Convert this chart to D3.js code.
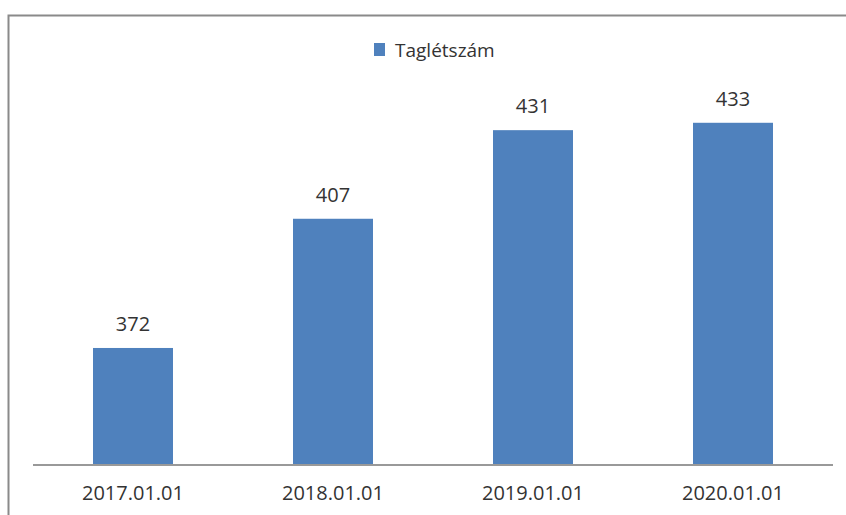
<!DOCTYPE html>
<html><head><meta charset="utf-8">
<script src="https://cdn.jsdelivr.net/npm/d3@7"></script>
<style>body{margin:0;background:#fff}svg{display:block}text{font-family:"Open Sans",sans-serif;fill:#333}</style>
</head><body><svg id="c" width="846" height="515"></svg>
<script>
const categories = ["2017.01.01","2018.01.01","2019.01.01","2020.01.01"];
const values = [372, 407, 431, 433];
const seriesName = "Taglétszám";
const yDomain = [340.3, 460.3];

const svg = d3.select("#c");
// frame
svg.append("path").attr("d","M8.5,515 L8.5,15.5 L846,15.5").attr("fill","none").attr("stroke","#8a8a8a").attr("stroke-width",2);

const x = d3.scaleBand().domain(categories).range([33,833]).paddingInner(0.6).paddingOuter(0.3);
const y = d3.scaleLinear().domain(yDomain).range([465,22]);

svg.selectAll("rect.bar").data(values).join("rect").attr("class","bar")
  .attr("x",(d,i)=>x(categories[i])).attr("width",x.bandwidth())
  .attr("y",d=>y(d)).attr("height",d=>y(yDomain[0])-y(d)).attr("fill","#4F81BD");

svg.selectAll("text.val").data(values).join("text").attr("class","val")
  .attr("x",(d,i)=>x(categories[i])+x.bandwidth()/2).attr("y",d=>y(d)-17)
  .attr("text-anchor","middle").attr("font-size",20).text(d=>d);

const xa = svg.append("g").attr("transform","translate(0,465)").call(d3.axisBottom(x).tickSize(0).tickPadding(21));
xa.select(".domain").attr("stroke","#999").attr("stroke-width",2).attr("d","M33,0H833");
xa.selectAll("text").attr("font-size",20).attr("font-family","'Open Sans',sans-serif").attr("fill","#333");

const lg = svg.append("g");
lg.append("rect").attr("x",374).attr("y",43).attr("width",11).attr("height",13).attr("fill","#4F81BD");
lg.append("text").attr("x",395).attr("y",57).attr("font-size",19).text(seriesName);
</script></body></html>
